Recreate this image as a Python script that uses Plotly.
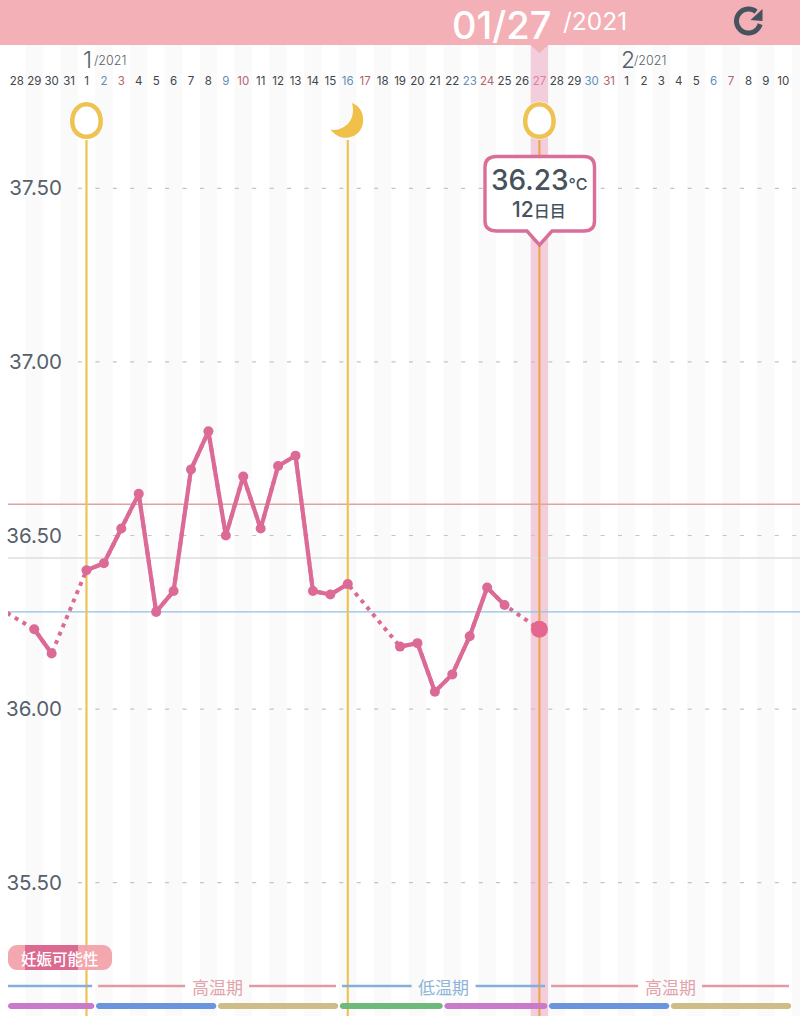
import numpy as np
import plotly.graph_objects as go

# ---------- data ----------
DAY_LABELS = [28,29,30,31] + list(range(1,32)) + list(range(1,11))
# day index 0 = 28 Dec; index 4 = 1 Jan; index 30 = 27 Jan; index 35 = 1 Feb
SAT_IDX = [5,12,19,26,33,40]
SUN_IDX = [6,13,20,27,34,41]
TODAY_IDX = 30
TEMP_DAYS = [-1,1,2,4,5,6,7,8,9,10,11,12,13,14,15,16,17,18,19,22,23,24,25,26,27,28,30]
TEMPS = [36.29,36.23,36.16,36.40,36.42,36.52,36.62,36.28,36.34,36.69,36.80,36.50,36.67,36.52,36.70,36.73,
         36.34,36.33,36.36,36.18,36.19,36.05,36.10,36.21,36.35,36.30,36.23]
MEASURED = [False,True,True,True,True,True,True,True,True,True,True,True,True,True,True,True,True,True,True,
            True,True,True,True,True,True,True,False]
Y_TICKS = [35.5,36.0,36.5,37.0,37.5]
HIGH_LINE, MID_LINE, LOW_LINE = 36.59, 36.435, 36.28
PERIOD_DAYS = [4,19,30]
PHASE_LABELS = ["", "高温期", "低温期", "高温期"]
PHASE_EDGES = [(-0.5,4.5),(4.5,18.5),(18.5,30.5),(30.5,44.5)]
CYCLE_EDGES = [(-0.5,4.5),(4.5,11.5),(11.5,18.5),(18.5,24.5),(24.5,30.5),(30.5,37.5),(37.5,44.5)]
CYCLE_COLORS = ["#c97ac9","#6b94de","#cfbd88","#70b97c","#c97ac9","#6b94de","#cfbd88"]

# ---------- geometry ----------
W,H = 800,1016
LEFT = 8
DX = 17.42
X0PX = 16.8
PPD = 347.2
xr = [(LEFT-X0PX)/DX,(W-X0PX)/DX]
yr = [36.5-(H-535.5)/PPD, 36.5+535.5/PPD]
def PX(p): return (p-LEFT)/(W-LEFT)
def PY(p): return 1-p/H
def ix(p): return (p-X0PX)/DX
def xpx(i): return X0PX+i*DX

FONT = "Noto Sans CJK JP"
LATIN = "Inter"
PINK = "#dc6a96"
YEL = "#eec353"
DARK = "#46525e"

shapes, annos = [], []
def path_str(pts, close=True):
    s = "M "+" L ".join(f"{PX(x):.5f},{PY(y):.5f}" for x,y in pts)
    return s+(" Z" if close else "")
def bez(cmds):
    out=[]
    for c in cmds:
        out.append(c[0]+" "+" ".join(f"{PX(c[i]):.5f},{PY(c[i+1]):.5f}" for i in range(1,len(c),2)))
    return " ".join(out)
def rrect(x0,y0,x1,y1,r):
    k=r*0.45
    return bez([("M",x0+r,y0),("L",x1-r,y0),("C",x1-k,y0,x1,y0+k,x1,y0+r),("L",x1,y1-r),
                ("C",x1,y1-k,x1-k,y1,x1-r,y1),("L",x0+r,y1),("C",x0+k,y1,x0,y1-k,x0,y1-r),
                ("L",x0,y0+r),("C",x0,y0+k,x0+k,y0,x0+r,y0)])+" Z"
def add(path,fill=None,lc=None,lw=0,layer="above",opacity=1):
    d=dict(type="path",path=path,xref="paper",yref="paper",layer=layer,opacity=opacity,line=dict(width=lw,color=lc or "rgba(0,0,0,0)"))
    if fill: d["fillcolor"]=fill
    shapes.append(d)
def egg(cx,cy=120.5,rx=14.2,ry=16.2,lw=4.5,fill="#ffffff",col=YEL):
    t=cy-ry;b=cy+ry
    return add(bez([("M",cx,t),("C",cx+rx*.62,t,cx+rx,cy-ry*.5,cx+rx,cy+1),("C",cx+rx,cy+ry*.6,cx+rx*.6,b,cx,b),
        ("C",cx-rx*.6,b,cx-rx,cy+ry*.6,cx-rx,cy+1),("C",cx-rx,cy-ry*.5,cx-rx*.62,t,cx,t)])+" Z",fill=fill,lc=col,lw=lw)
def text(x,y,t,size,color=DARK,anchor="center",weight=None,family=None):
    f=dict(family=family or FONT,size=size,color=color)
    if weight: f["weight"]=weight
    annos.append(dict(xref="paper",yref="paper",x=PX(x),y=PY(y),text=t,showarrow=False,font=f,xanchor=anchor,yanchor="middle",
                      borderpad=0,borderwidth=0))

# stripes
for i in range(-1,46,2):
    shapes.append(dict(type="rect",xref="x",yref="paper",x0=i-0.5,x1=i+0.5,y0=0,y1=PY(45),layer="below",
                       fillcolor="#fafafa",line=dict(width=0)))
# today band
shapes.append(dict(type="rect",xref="x",yref="paper",x0=TODAY_IDX-0.5,x1=TODAY_IDX+0.5,y0=0,y1=PY(45),layer="below",
                   fillcolor="#f2cddb",line=dict(width=0)))
# reference lines
for v,c in [(HIGH_LINE,"#e0a3a3"),(MID_LINE,"#dedede"),(LOW_LINE,"#8fc0e4")]:
    shapes.append(dict(type="line",xref="paper",yref="y",x0=0,x1=1,y0=v,y1=v,layer="below",line=dict(width=1.4,color=c)))
# period lines
for d in PERIOD_DAYS:
    shapes.append(dict(type="line",xref="x",yref="paper",x0=d,x1=d,y0=0,y1=PY(140),layer="below",
                       line=dict(width=2.2,color="#eea64e" if d==TODAY_IDX else YEL)))

# header
add(path_str([(0-8,0),(W,0),(W,45),(548.5,45),(539.5,53),(530.5,45),(0-8,45)]),fill="#f4b0b7")
text(501,24.7,"01/27",38,"#ffffff",weight=500,family=LATIN)
text(595,21,"/2021",24.5,"#ffffff",family=LATIN)
# refresh icon
th=np.radians(np.arange(15,312,6))
arc=[(748.5+12*np.cos(a),21+12*np.sin(a)) for a in th]
add(path_str(arc,close=False),lc=DARK,lw=5)
add(path_str([(762.5,9),(762.5,21),(750.5,20)]),fill=DARK)

# month labels
text(87,60,"1",23,"#555f68",weight=300,family=LATIN)
text(110,60,"/2021",12.5,"#555f68",weight=300,family=LATIN)
text(628,60,"2",23,"#555f68",weight=300,family=LATIN)
text(650,60,"/2021",12.5,"#555f68",weight=300,family=LATIN)

# egg / moon icons
egg(xpx(4))
add(bez([("M",352,103),("C",367,108,367,132,352,136.5),("C",344,140,335,136,330.5,129.5),("C",342,132,357,122,352,103)])+" Z",fill="#f1c04a")
egg(xpx(TODAY_IDX),rx=16.5,ry=18.5,lw=1,col="#ffffff")
egg(xpx(TODAY_IDX))

# bubble
c=539.5
add(bez([("M",497,156.5),("L",584,156.5),("C",591,156.5,594.5,160,594.5,167),("L",594.5,221),("C",594.5,228,591,231,584,231),
         ("L",552,231),("L",c,245),("L",527,231),("L",497,231),("C",489,231,485,228,485,221),("L",485,167),("C",485,160,489,156.5,497,156.5)])+" Z",
    fill="#ffffff",lc="#d96f98",lw=3.4)
text(539,180,"36.23<span style='font-size:16px'>°C</span>",28,DARK,weight=500,family=LATIN)
text(539,210,"12<span style='font-size:16px;font-family:\"Noto Sans CJK JP\"'>日目</span>",21,DARK,weight=500,family=LATIN)

# fertile badge
add(rrect(8,945,112,970,9),fill="#f2a2ab",opacity=0.95)
shapes.append(dict(type="rect",xref="x",yref="paper",x0=ix(25),x1=ix(78),y0=PY(970),y1=PY(945),layer="above",
                   fillcolor="#dc6a90",line=dict(width=0)))
text(60,957.5,"妊娠可能性",15.5,"#ffffff",weight=500)

# phases
GAP=3
for (a,b),lab in zip(PHASE_EDGES,PHASE_LABELS):
    x0,x1=xpx(a)+GAP,xpx(b)-GAP
    if a<0: x0=8
    col="#e29aa2" if lab=="高温期" else "#86aedb"
    tcol="#e3a3ac" if lab=="高温期" else "#8fb5d8"
    if lab:
        m=(x0+x1)/2
        segs=[(x0,m-32),(m+32,x1)]
        text(m,986,lab,17,tcol)
    else:
        segs=[(x0,x1)]
    for s0,s1 in segs:
        shapes.append(dict(type="line",xref="paper",yref="paper",x0=PX(s0),x1=PX(s1),y0=PY(986),y1=PY(986),layer="above",
                           line=dict(width=2.4,color=col)))
# cycle bars
for (a,b),colr in zip(CYCLE_EDGES,CYCLE_COLORS):
    add(rrect(8 if a<0 else xpx(a)+0.8,1003,xpx(b)-0.8,1009,3),fill=colr)

# ---------- traces ----------
fig=go.Figure()
for v in Y_TICKS:
    fig.add_trace(go.Scatter(x=[ix(78),xr[1]],y=[v,v],mode="lines",line=dict(color="#c4c4c4",width=1.2,dash="4px,13.42px"),hoverinfo="skip"))
days=np.array(TEMP_DAYS,float);temps=np.array(TEMPS)
fig.add_trace(go.Scatter(x=days,y=temps,mode="lines",line=dict(color=PINK,width=4,dash="4px,5px"),hoverinfo="skip"))
sx,sy=[],[]
for i,(d,t,m) in enumerate(zip(TEMP_DAYS,TEMPS,MEASURED)):
    if not m: continue
    if sx and sx[-1] is not None and d-sx[-1]>1:
        sx.append(None);sy.append(None)
    sx.append(d);sy.append(t)
fig.add_trace(go.Scatter(x=sx,y=sy,mode="lines+markers",connectgaps=False,line=dict(color=PINK,width=4.2),
                         marker=dict(color=PINK,size=10),hoverinfo="skip"))
fig.add_trace(go.Scatter(x=[TEMP_DAYS[-1]],y=[TEMPS[-1]],mode="markers",marker=dict(color="#e5678f",size=17),hoverinfo="skip"))

# tick labels
def lab(i,d):
    if i==TODAY_IDX: c="#e07fa3"
    elif i in SAT_IDX: c="#5f8fb8"
    elif i in SUN_IDX: c="#b5636a"
    else: c="#3c444c"
    return f"<span style='color:{c}'>{d}</span>"
fig.update_layout(
    width=W,height=H,margin=dict(l=LEFT,r=0,t=0,b=0),paper_bgcolor="#ffffff",plot_bgcolor="#ffffff",showlegend=False,
    hovermode=False,shapes=shapes,annotations=annos,font=dict(family=FONT),
    xaxis=dict(range=xr,side="top",anchor="free",position=PY(87.5),showgrid=False,zeroline=False,showline=False,ticks="",
               tickmode="array",tickvals=list(range(len(DAY_LABELS))),ticktext=[lab(i,d) for i,d in enumerate(DAY_LABELS)],
               tickangle=0,tickfont=dict(size=11.5,family=LATIN),fixedrange=True),
    yaxis=dict(range=yr,anchor="free",position=PX(62),showgrid=False,zeroline=False,showline=False,ticks="",
               tickmode="array",tickvals=Y_TICKS,ticktext=[f"{v:.2f}" for v in Y_TICKS],
               tickfont=dict(size=20.5,color="#56616b",family=LATIN),fixedrange=True),
)
fig.write_html("out.html",config=dict(displayModeBar=False),
               post_script="document.body.style.margin='0';document.body.style.overflow='hidden';")
